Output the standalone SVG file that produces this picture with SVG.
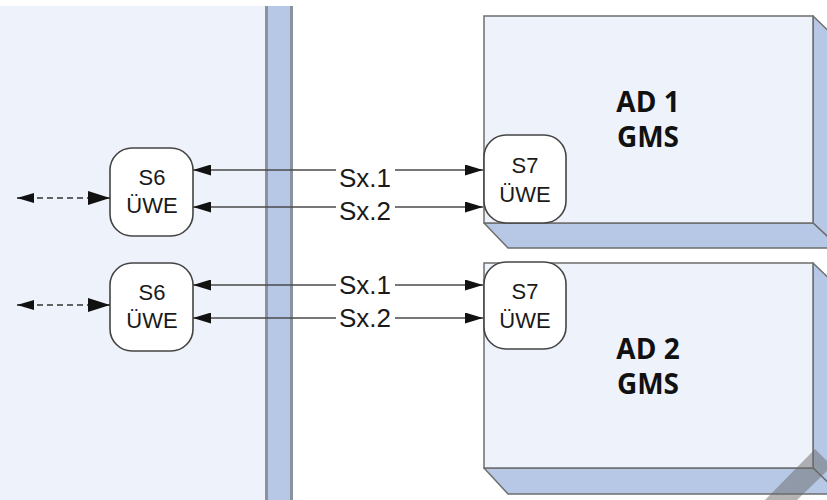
<svg xmlns="http://www.w3.org/2000/svg" width="827" height="500" viewBox="0 0 827 500">
<defs>
<style>
.panel{fill:#eef3fb;}
.bar{fill:#b7c8e6;}
.barEdge{stroke:#8a929e;stroke-width:3;}
.front{fill:#eef3fb;stroke:#6e6e6e;stroke-width:1.5;}
.face{fill:#b7c8e6;stroke:#6e6e6e;stroke-width:1.5;stroke-linejoin:round;}
.uwe{fill:#ffffff;stroke:#444444;stroke-width:1.6;}
.t{font-family:"Liberation Sans",Arial,sans-serif;font-size:22px;fill:#1a1a1a;text-anchor:middle;}
.ad{font-family:"Open Sans","Liberation Sans",sans-serif;font-size:28px;font-weight:bold;fill:#111;text-anchor:middle;}
.lbl{font-family:"Liberation Sans",Arial,sans-serif;font-size:26px;fill:#1a1a1a;text-anchor:middle;}
.conn{stroke:#4a4a4a;stroke-width:1.5;fill:none;}
.dash{stroke:#333;stroke-width:1.5;stroke-dasharray:6 4;fill:none;}
</style>
<marker id="ah" viewBox="0 0 18 11" refX="18" refY="5.5" markerWidth="18" markerHeight="11" markerUnits="userSpaceOnUse" orient="auto-start-reverse">
<path d="M0,0 L18,5.5 L0,11 z" fill="#111"/>
</marker>
<marker id="ahBig" viewBox="0 0 22 14" refX="22" refY="7" markerWidth="22" markerHeight="14" markerUnits="userSpaceOnUse" orient="auto">
<path d="M0,0 L22,7 L0,14 z" fill="#111"/>
</marker>
<marker id="ahSmall" viewBox="0 0 17 10" refX="17" refY="5" markerWidth="17" markerHeight="10" markerUnits="userSpaceOnUse" orient="auto-start-reverse">
<path d="M0,0 L17,5 L0,10 z" fill="#111"/>
</marker>
</defs>

<g id="left-panel">
<rect class="panel" x="0" y="6" width="266" height="494"/>
</g>

<g id="bus-bar">
<rect class="bar" x="266" y="6" width="26" height="494"/>
<line class="barEdge" x1="266.5" y1="6" x2="266.5" y2="500"/>
<line class="barEdge" x1="291.5" y1="6" x2="291.5" y2="500"/>
</g>

<g id="ad1">
<polygon class="face" points="813,16 840,42 840,248 813,223"/>
<polygon class="face" points="484,223 813,223 840,248 508,248"/>
<rect class="front" x="484" y="16" width="329" height="207"/>
<text class="ad" x="648" y="112">AD 1</text>
<text class="ad" x="648" y="147">GMS</text>
</g>

<g id="ad2">
<polygon class="face" points="813,263 840,289 840,494 813,468"/>
<polygon class="face" points="484,468 813,468 840,494 508,494"/>
<rect class="front" x="484" y="263" width="329" height="205"/>
<text class="ad" x="648" y="359">AD 2</text>
<text class="ad" x="648" y="394">GMS</text>
</g>

<g id="s6-1">
<rect class="uwe" x="110" y="148" width="83" height="88" rx="22"/>
<text class="t" x="152" y="185">S6</text>
<text class="t" x="152" y="213">ÜWE</text>
</g>

<g id="s6-2">
<rect class="uwe" x="110" y="263" width="83" height="88" rx="22"/>
<text class="t" x="152" y="300">S6</text>
<text class="t" x="152" y="328">ÜWE</text>
</g>

<g id="s7-1">
<rect class="uwe" x="484" y="135" width="82" height="88" rx="22"/>
<text class="t" x="525" y="173">S7</text>
<text class="t" x="525" y="202">ÜWE</text>
</g>

<g id="s7-2">
<rect class="uwe" x="484" y="262" width="82" height="87" rx="22"/>
<text class="t" x="525" y="299">S7</text>
<text class="t" x="525" y="328">ÜWE</text>
</g>

<g id="connectors">
<line class="conn" x1="193" y1="170" x2="483" y2="170" marker-start="url(#ah)" marker-end="url(#ah)"/>
<line class="conn" x1="193" y1="207" x2="483" y2="207" marker-start="url(#ah)" marker-end="url(#ah)"/>
<line class="conn" x1="193" y1="285" x2="483" y2="285" marker-start="url(#ah)" marker-end="url(#ah)"/>
<line class="conn" x1="193" y1="318" x2="483" y2="318" marker-start="url(#ah)" marker-end="url(#ah)"/>
<line class="dash" x1="17" y1="198" x2="110" y2="198" marker-start="url(#ahSmall)" marker-end="url(#ahBig)"/>
<line class="dash" x1="17" y1="305" x2="110" y2="305" marker-start="url(#ahSmall)" marker-end="url(#ahBig)"/>
<rect x="336" y="165" width="59" height="22" fill="#ffffff"/>
<rect x="336" y="199" width="59" height="22" fill="#ffffff"/>
<rect x="336" y="273" width="59" height="22" fill="#ffffff"/>
<rect x="336" y="306" width="59" height="22" fill="#ffffff"/>
<text class="lbl" x="365" y="187">Sx.1</text>
<text class="lbl" x="365" y="220">Sx.2</text>
<text class="lbl" x="365" y="294">Sx.1</text>
<text class="lbl" x="365" y="327">Sx.2</text>
</g>

<polygon points="765,500 815,449 827,461 827,471 797,500" fill="#6a6a6a" fill-opacity="0.5"/>
</svg>
